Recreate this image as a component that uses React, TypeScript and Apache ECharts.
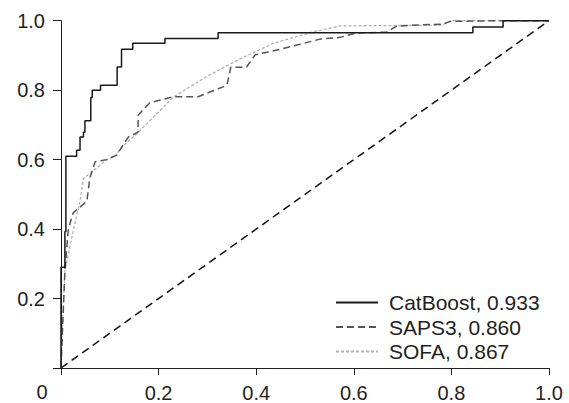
import React, { useEffect, useRef } from "react";
import * as echarts from "echarts";

const catboostFpr = [0, 0, 0.008, 0.01, 0.032, 0.039, 0.046, 0.049, 0.061, 0.064, 0.081, 0.115, 0.124, 0.147, 0.213, 0.322, 0.844, 0.906, 1.0];
const catboostTpr = [0, 0.29, 0.393, 0.61, 0.627, 0.665, 0.679, 0.712, 0.779, 0.8, 0.814, 0.867, 0.918, 0.935, 0.949, 0.965, 0.982, 1.0, 1.0];

const saps3Fpr = [0, 0.004, 0.008, 0.015, 0.025, 0.053, 0.059, 0.07, 0.094, 0.114, 0.138, 0.158, 0.158, 0.182, 0.23, 0.281, 0.34, 0.348, 0.38, 0.398, 0.432, 0.49, 0.531, 0.572, 0.604, 0.667, 0.686, 0.715, 0.783, 0.797, 0.9, 1.0];
const saps3Tpr = [0, 0.14, 0.28, 0.4, 0.447, 0.48, 0.546, 0.594, 0.6, 0.613, 0.665, 0.679, 0.728, 0.764, 0.781, 0.781, 0.814, 0.866, 0.866, 0.902, 0.912, 0.932, 0.947, 0.952, 0.964, 0.967, 0.983, 0.987, 0.99, 0.998, 1.0, 1.0];

const sofaFpr = [0, 0.001, 0.008, 0.022, 0.025, 0.039, 0.046, 0.063, 0.094, 0.114, 0.121, 0.155, 0.23, 0.299, 0.367, 0.435, 0.517, 0.572, 0.78, 0.8, 1.0];
const sofaTpr = [0, 0.054, 0.28, 0.375, 0.395, 0.48, 0.546, 0.565, 0.6, 0.613, 0.632, 0.674, 0.78, 0.84, 0.89, 0.935, 0.968, 0.985, 0.987, 1.0, 1.0];

const diagonal = [0, 1];

const seriesNames = ["CatBoost, 0.933", "SAPS3, 0.860", "SOFA, 0.867"];
const tickValues = [0, 0.2, 0.4, 0.6, 0.8, 1.0];

const zip = (xs: number[], ys: number[]) => xs.map((x, i) => [x, ys[i]]);

const FONT = "'Liberation Sans', Arial, sans-serif";
const TEXT = "#231f20";

export default function App() {
  const ref = useRef<HTMLDivElement>(null);
  useEffect(() => {
    if (!ref.current) return;
    const chart = echarts.init(ref.current, undefined, { renderer: "svg" });
    chart.setOption({
      animation: false,
      backgroundColor: "#ffffff",
      textStyle: { fontFamily: FONT },
      grid: { left: 61, right: 20, top: 20.7, bottom: 31, containLabel: false },
      xAxis: {
        type: "value",
        min: tickValues[0],
        max: tickValues[tickValues.length - 1],
        interval: 0.2,
        splitLine: { show: false },
        axisLine: { show: true, onZero: false, lineStyle: { color: TEXT, width: 1 } },
        axisTick: { show: true, length: 7, lineStyle: { color: TEXT, width: 1 } },
        axisLabel: {
          margin: 15,
          fontSize: 20,
          color: TEXT,
          fontFamily: FONT,
          formatter: (v: number) => (v === 0 ? "" : v.toFixed(1)),
        },
      },
      yAxis: {
        type: "value",
        min: tickValues[0],
        max: tickValues[tickValues.length - 1],
        interval: 0.2,
        splitLine: { show: false },
        axisLine: { show: true, onZero: false, lineStyle: { color: TEXT, width: 1 } },
        axisTick: { show: true, length: 8, lineStyle: { color: TEXT, width: 1 } },
        axisLabel: {
          margin: 16,
          fontSize: 20,
          color: TEXT,
          fontFamily: FONT,
          formatter: (v: number) => (v === 0 ? "" : v.toFixed(1)),
        },
      },
      legend: {
        data: seriesNames,
        orient: "vertical",
        left: 335,
        top: 292,
        padding: 0,
        itemWidth: 42,
        itemHeight: 12,
        itemGap: 3.5,
        itemStyle: { opacity: 0 },
        textStyle: { fontSize: 21, color: TEXT, fontFamily: FONT, lineHeight: 20, padding: [0, 0, 0, 6] },
      },
      graphic: [
        {
          type: "text",
          x: 42,
          y: 392,
          style: {
            text: "0",
            fontSize: 20,
            lineHeight: 16,
            fontFamily: FONT,
            fill: TEXT,
            textAlign: "center",
            textVerticalAlign: "middle",
          },
        },
      ],
      series: [
        {
          name: "diag",
          type: "line",
          data: zip(diagonal, diagonal),
          symbol: "none",
          silent: true,
          lineStyle: { color: "#111", width: 1.5, type: [8, 5] },
        },
        {
          name: seriesNames[2],
          type: "line",
          data: zip(sofaFpr, sofaTpr),
          symbol: "none",
          lineStyle: { color: "#b0b0b0", width: 1.3, type: [3, 2] },
          itemStyle: { color: "#b0b0b0" },
        },
        {
          name: seriesNames[1],
          type: "line",
          data: zip(saps3Fpr, saps3Tpr),
          symbol: "none",
          lineStyle: { color: "#555555", width: 1.5, type: [7, 4] },
          itemStyle: { color: "#555555" },
        },
        {
          name: seriesNames[0],
          type: "line",
          step: "end",
          data: zip(catboostFpr, catboostTpr),
          symbol: "none",
          lineStyle: { color: "#1a1a1a", width: 1.5, type: "solid" },
          itemStyle: { color: "#1a1a1a" },
        },
      ],
    });
    return () => chart.dispose();
  }, []);
  return (
    <div
      ref={ref}
      style={{ position: "fixed", left: 0, top: 0, width: 569, height: 403, background: "#fff" }}
    />
  );
}
